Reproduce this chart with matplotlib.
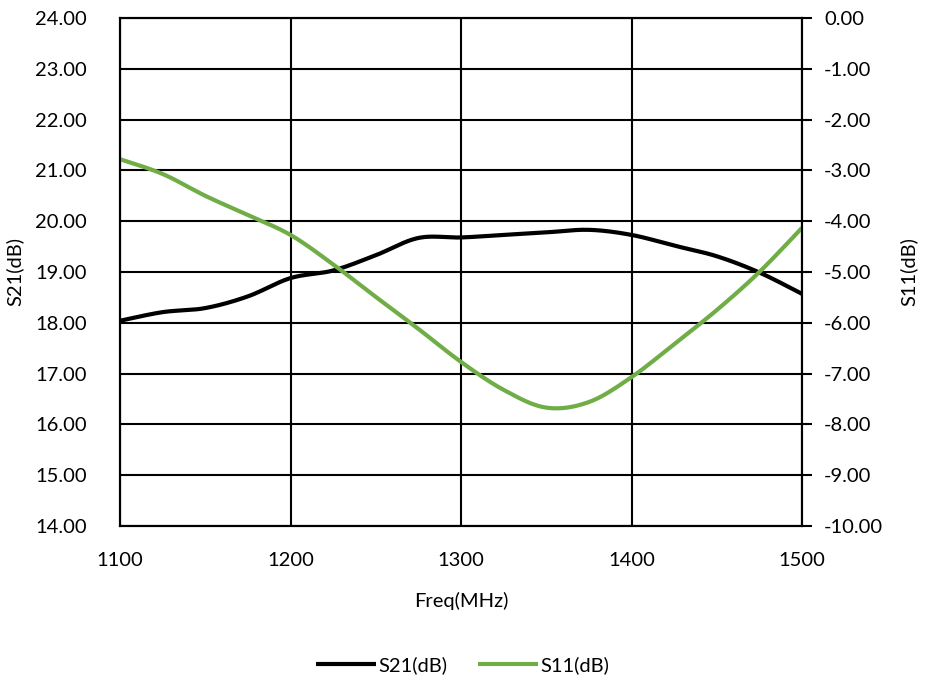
import matplotlib
matplotlib.use("Agg")
import matplotlib.pyplot as plt
import numpy as np
from matplotlib.ticker import FormatStrFormatter

plt.rcParams['font.family'] = ['Lato', 'DejaVu Sans']

freq = [1100, 1125, 1150, 1175, 1200, 1225, 1250, 1275, 1300, 1325, 1350, 1375, 1400, 1425, 1450, 1475, 1500]
s21 = [18.04, 18.21, 18.29, 18.52, 18.88, 19.03, 19.33, 19.67, 19.68, 19.73, 19.78, 19.83, 19.73, 19.52, 19.31, 18.99, 18.57]
s11 = [-2.78, -3.07, -3.50, -3.88, -4.27, -4.85, -5.49, -6.12, -6.77, -7.32, -7.67, -7.56, -7.07, -6.42, -5.75, -5.00, -4.13]


def smooth(x, y, n=20):
    """Excel-style smoothed line (Bezier through the given points)."""
    P = np.column_stack([np.asarray(x, float), np.asarray(y, float)])
    P = np.vstack([P[0], P, P[-1]])
    out = []
    t = np.linspace(0, 1, n, endpoint=False)[:, None]
    for i in range(1, len(P) - 2):
        p0, p1, p2, p3 = P[i - 1], P[i], P[i + 1], P[i + 2]
        c1 = p1 + (p2 - p0) / 6
        c2 = p2 - (p3 - p1) / 6
        seg = ((1 - t) ** 3) * p1 + 3 * ((1 - t) ** 2) * t * c1 + 3 * (1 - t) * t ** 2 * c2 + t ** 3 * p2
        out.append(seg)
    out.append(P[-2][None, :])
    out = np.vstack(out)
    return out[:, 0], out[:, 1]


fig = plt.figure(figsize=(9.25, 6.82), dpi=100)
ax = fig.add_axes([120/925, 1-526/682, (802-120)/925, (526-18)/682])
ax2 = ax.twinx()

xs, ys = smooth(freq, s21)
l1, = ax.plot(xs, ys, color='black', lw=3, label='S21(dB)', solid_capstyle='butt')
xs2, ys2 = smooth(freq, s11)
l2, = ax2.plot(xs2, ys2, color='#70AD47', lw=3, label='S11(dB)', solid_capstyle='butt')

ax.set_xlim(1100, 1500)
ax.set_ylim(14, 24)
ax2.set_ylim(-10, 0)
ax.set_xticks([1100, 1200, 1300, 1400, 1500])
ax.set_yticks(np.arange(14, 25, 1))
ax2.set_yticks(np.arange(-10, 1, 1))
ax.yaxis.set_major_formatter(FormatStrFormatter('%.2f'))
ax2.yaxis.set_major_formatter(FormatStrFormatter('%.2f'))
ax.grid(True, color='black', lw=1.5)
ax.set_axisbelow(True)
for a in (ax, ax2):
    for s in a.spines.values():
        s.set_color('black')
        s.set_linewidth(1.5)
fs = 14.5
ax.tick_params(axis='x', length=0, labelsize=fs, pad=19)
ax.tick_params(axis='y', length=0, labelsize=fs, pad=24)
ax2.tick_params(axis='y', length=7, width=1.5, labelsize=fs, pad=9, direction='out')
ax.set_xlabel('Freq(MHz)', fontsize=fs, labelpad=16)
ax.set_ylabel('S21(dB)', fontsize=fs, labelpad=8)
ax2.set_ylabel('S11(dB)', fontsize=fs, labelpad=12)

fig.legend(handles=[l1, l2], loc='center', bbox_to_anchor=(0.5, 1-665/682), ncol=2,
           frameon=False, fontsize=fs, handlelength=3, columnspacing=1.5, handletextpad=0.1)

fig.savefig('out.png', dpi=100)
